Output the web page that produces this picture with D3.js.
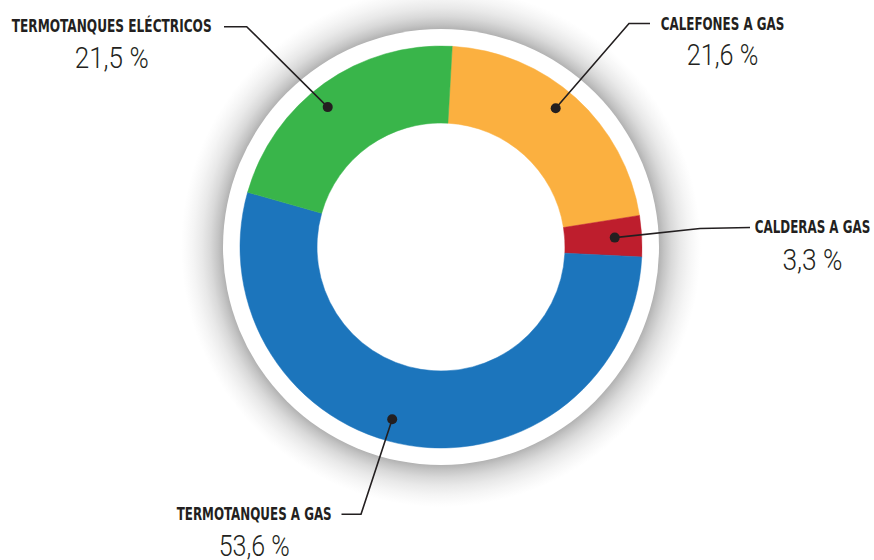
<!DOCTYPE html>
<html>
<head>
<meta charset="utf-8">
<script src="https://cdn.jsdelivr.net/npm/d3@7"></script>
<style>
  html, body { margin: 0; padding: 0; background: #ffffff; }
  svg { display: block; }
</style>
</head>
<body>
<svg id="chart" width="874" height="560"></svg>
<script>
// ---- data ----
const categories = ["CALEFONES A GAS", "CALDERAS A GAS", "TERMOTANQUES A GAS", "TERMOTANQUES ELÉCTRICOS"];
const values = [21.6, 3.3, 53.6, 21.5];
const valueLabels = ["21,6 %", "3,3 %", "53,6 %", "21,5 %"];
const colors = ["#fbb040", "#be1e2d", "#1c75bc", "#39b54a"];

// ---- layout ----
const W = 874, H = 560;
const cx = 441, cy = 247;
const outerR = 201, innerR = 124, ringR = 218, shadowR = 260;
const startOffset = 3.2 * Math.PI / 180;

// annotation layout (dot angle tweak, dot radius, elbow, line end, text centre, baselines, widths)
const annot = [
  { dAng: -2.5, dR: 180, pts: [[629, 23.5], [650, 23.5]], tx: 722.5, lb: 29.5, vb: 65, lw: 123.5, vw: 71.5 },
  { dAng: 0,    dR: 174, pts: [[700, 228.5], [750, 227.5]], tx: 812.5, lb: 233.3, vb: 270, lw: 115.5, vw: 60 },
  { dAng: 6.5,  dR: 179, pts: [[361, 514.3], [341.5, 514.3]], tx: 254.2, lb: 520, vb: 555.5, lw: 155, vw: 71 },
  { dAng: -3.5, dR: 180, pts: [[246.7, 26.7], [224, 26.7]], tx: 111.7, lb: 32.3, vb: 68.3, lw: 200, vw: 74 }
];

const svg = d3.select("#chart");
const defs = svg.append("defs");
const grad = defs.append("radialGradient").attr("id", "shadow")
  .attr("cx", 0).attr("cy", 0).attr("r", shadowR).attr("gradientUnits", "userSpaceOnUse");
const s0 = ringR / shadowR;
[[0, "#b2b2b2"], [s0, "#b2b2b2"], [s0 + (1 - s0) * 0.12, "#c4c4c4"],
 [s0 + (1 - s0) * 0.3, "#d9d9d9"], [s0 + (1 - s0) * 0.5, "#e9e9e9"], [s0 + (1 - s0) * 0.72, "#f5f5f5"],
 [s0 + (1 - s0) * 0.9, "#fcfcfc"], [1, "#ffffff"]]
  .forEach(([o, c]) => grad.append("stop").attr("offset", o).attr("stop-color", c));

const g = svg.append("g").attr("transform", `translate(${cx},${cy})`);
g.append("circle").attr("r", shadowR).attr("fill", "url(#shadow)");
g.append("circle").attr("r", ringR).attr("fill", "#ffffff");

const pie = d3.pie().sort(null).value(d => d)
  .startAngle(startOffset).endAngle(startOffset + 2 * Math.PI);
const arcs = pie(values);
const arc = d3.arc().innerRadius(innerR).outerRadius(outerR);

g.selectAll("path.slice").data(arcs).join("path")
  .attr("class", "slice")
  .attr("d", arc)
  .attr("fill", (d, i) => colors[i])
  .attr("stroke", (d, i) => colors[i]).attr("stroke-width", 0.5);

// annotations
const ink = "#231f20";
arcs.forEach((a, i) => {
  const L = annot[i];
  const ang = (a.startAngle + a.endAngle) / 2 + L.dAng * Math.PI / 180;
  const dx = cx + L.dR * Math.sin(ang), dy = cy - L.dR * Math.cos(ang);
  const line = d3.line();
  svg.append("path").attr("d", line([[dx, dy], ...L.pts]))
    .attr("fill", "none").attr("stroke", ink).attr("stroke-width", 1.6);
  svg.append("circle").attr("cx", dx).attr("cy", dy).attr("r", 5).attr("fill", ink);
  svg.append("text").attr("x", L.tx).attr("y", L.lb).attr("text-anchor", "middle")
    .attr("font-family", "'Liberation Sans Narrow', 'DejaVu Sans Condensed', sans-serif")
    .attr("font-weight", 700).attr("font-size", 17).attr("fill", ink)
    .attr("textLength", L.lw).attr("lengthAdjust", "spacingAndGlyphs")
    .text(categories[i]);
  svg.append("text").attr("x", L.tx).attr("y", L.vb).attr("text-anchor", "middle")
    .attr("font-family", "Roboto, 'Liberation Sans Narrow', sans-serif")
    .attr("font-weight", 300).attr("font-size", 29).attr("fill", ink)
    .attr("textLength", L.vw).attr("lengthAdjust", "spacingAndGlyphs")
    .text(valueLabels[i]);
});
</script>
</body>
</html>
